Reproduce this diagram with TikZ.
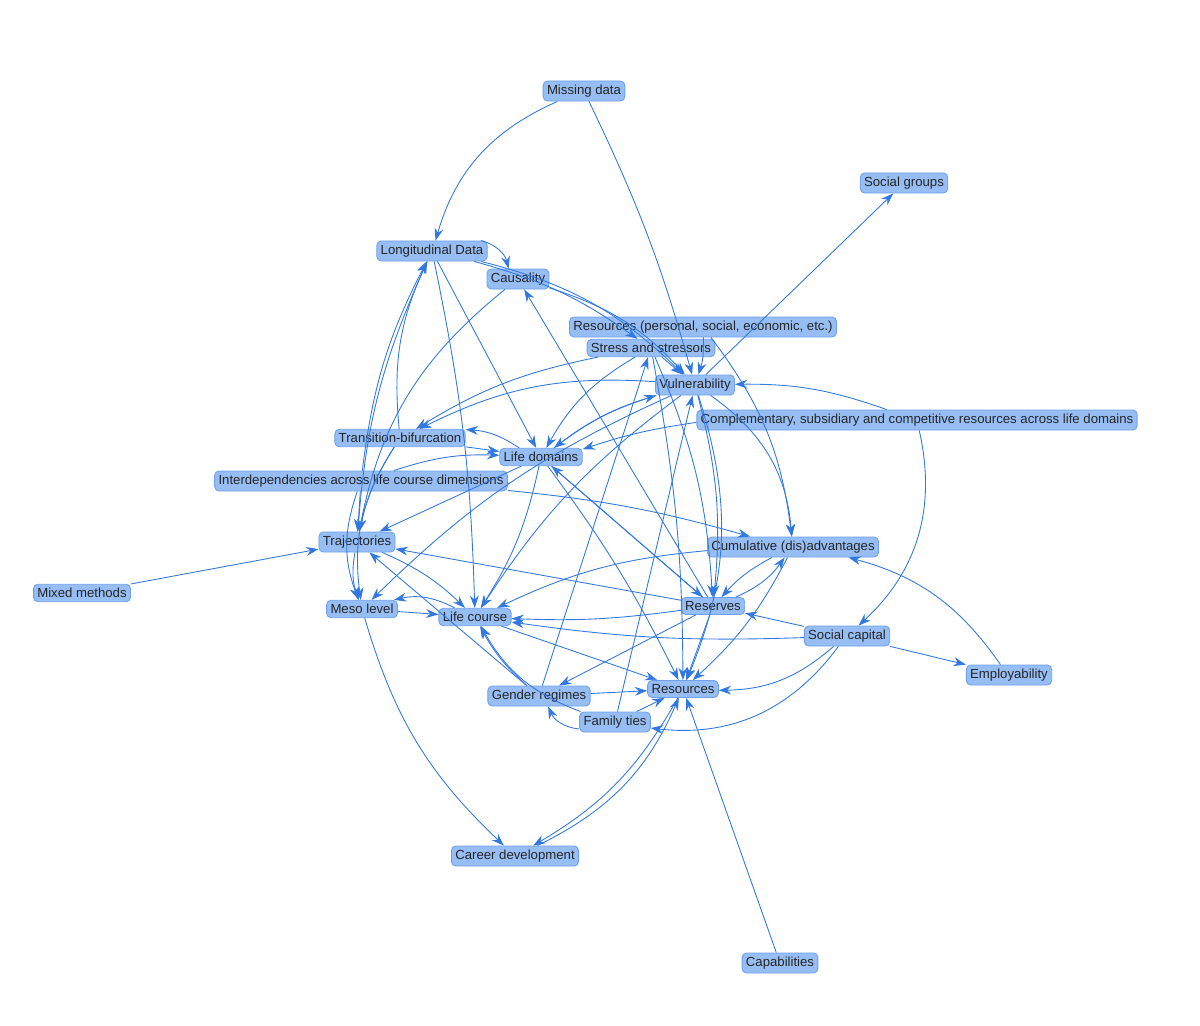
\documentclass[tikz,border=0pt]{standalone}
\usepackage{fontspec}
\setmainfont{Liberation Sans}
\usetikzlibrary{arrows.meta}
\definecolor{nfill}{RGB}{150,190,245}
\definecolor{ndraw}{RGB}{110,160,235}
\definecolor{edge}{RGB}{50,120,225}
\tikzset{
  nd/.style={fill=nfill,draw=ndraw,rounded corners=2.5pt,font=\fontsize{7.5pt}{9pt}\selectfont,text=black!85,inner sep=2.2pt,line width=0.5pt},
  ed/.style={draw=edge,line width=0.5pt,-{Stealth[length=7pt,width=5pt]}},
}
\begin{document}
\begin{tikzpicture}[x=0.02cm,y=-0.02cm]
\useasboundingbox (0,0) rectangle (1200,1025);
\node[nd] (md) at (584,91) {Missing data};
\node[nd] (sg) at (904,183) {Social groups};
\node[nd] (ld) at (432,251) {Longitudinal Data};
\node[nd] (ca) at (518,279) {Causality};
\node[nd] (rp) at (703,327) {Resources (personal, social, economic, etc.)};
\node[nd] (st) at (651,348) {Stress and stressors};
\node[nd] (vu) at (695,385) {Vulnerability};
\node[nd] (co) at (917,420) {Complementary, subsidiary and competitive resources across life domains};
\node[nd] (tb) at (400,438) {Transition-bifurcation};
\node[nd] (lf) at (541,457) {Life domains};
\node[nd] (in) at (361,481) {Interdependencies across life course dimensions};
\node[nd] (tr) at (357,542) {Trajectories};
\node[nd] (cu) at (793,547) {Cumulative (dis)advantages};
\node[nd] (mm) at (82,593) {Mixed methods};
\node[nd] (me) at (362,609) {Meso level};
\node[nd] (lc) at (475,617) {Life course};
\node[nd] (re) at (713,606) {Reserves};
\node[nd] (sc) at (847,636) {Social capital};
\node[nd] (em) at (1009,675) {Employability};
\node[nd] (rs) at (683,689) {Resources};
\node[nd] (gr) at (539,696) {Gender regimes};
\node[nd] (ft) at (615,722) {Family ties};
\node[nd] (cd) at (515,856) {Career development};
\node[nd] (cp) at (780,963) {Capabilities};

\begin{scope}[every path/.style={ed}]
\draw (md) to[bend right=25] (ld);
\draw (md) to[bend left=5] (vu);
\draw (vu) -- (sg);
\draw (ld) to[bend left=30] (ca);
\draw (ld) -- (lf);
\draw (ld) to[bend left=5] (lc);
\draw (ld) to[bend right=10] (tr);
\draw (ld) to[bend left=15] (vu);
\draw (ld) to[bend left=10] (st);
\draw (ca) to[bend left=15] (vu);
\draw (re) -- (ca);
\draw (ca) to[bend right=20] (tr);
\draw (st) to[bend right=15] (lf);
\draw (st) -- (vu);
\draw (st) to[bend right=10] (tb);
\draw (st) to[bend left=10] (re);
\draw (st) to[bend left=5] (rs);
\draw (rp) to[bend left=10] (vu);
\draw (rp) to[bend left=15] (cu);
\draw (vu) to[bend right=10] (lf);
\draw (vu) to[bend right=15] (tb);
\draw (vu) to[bend left=10] (re);
\draw (vu) to[bend left=20] (rs);
\draw (vu) to[bend left=25] (cu);
\draw (vu) to[bend right=10] (lc);
\draw (vu) to[bend right=10] (me);
\draw (co) to[bend right=5] (lf);
\draw (co) to[bend left=30] (sc);
\draw (co) to[bend right=10] (vu);
\draw (tb) to[bend right=10] (tr);
\draw (tb) -- (lf);
\draw (tb) to[bend left=15] (ld);
\draw (tb) to[bend right=20] (me);
\draw (lf) -- (tr);
\draw (lf) to[bend left=10] (vu);
\draw (lf) -- (re);
\draw (lf) to[bend left=5] (rs);
\draw (lf) to[bend left=10] (lc);
\draw (lf) to[bend right=15] (tb);
\draw (in) -- (tr);
\draw (in) to[bend left=10] (lf);
\draw (in) to[bend left=5] (cu);
\draw (in) to[bend right=20] (me);
\draw (in) to[bend left=10] (ld);
\draw (tr) to[bend right=15] (me);
\draw (tr) to[bend left=10] (lc);
\draw (mm) -- (tr);
\draw (me) -- (lc);
\draw (me) to[bend right=15] (cd);
\draw (lc) -- (rs);
\draw (lc) to[bend right=20] (me);
\draw (re) -- (tr);
\draw (re) to[bend left=5] (lc);
\draw (re) -- (rs);
\draw (re) to[bend right=15] (cu);
\draw (re) -- (lf);
\draw (re) -- (gr);
\draw (cu) to[bend right=10] (re);
\draw (cu) to[bend right=10] (lc);
\draw (cu) to[bend left=10] (rs);
\draw (sc) -- (re);
\draw (sc) -- (em);
\draw (sc) to[bend left=20] (rs);
\draw (sc) to[bend left=5] (lc);
\draw (sc) to[bend left=30] (ft);
\draw (em) to[bend right=20] (cu);
\draw (rs) to[bend left=15] (cd);
\draw (gr) -- (rs);
\draw (gr) -- (st);
\draw (gr) to[bend left=10] (lc);
\draw (gr) -- (tr);
\draw (ft) -- (rs);
\draw (ft) -- (vu);
\draw (ft) to[bend left=30] (gr);
\draw (ft) to[bend left=20] (lc);
\draw (cd) to[bend right=20] (rs);
\draw (cp) -- (rs);
\end{scope}
\end{tikzpicture}
\end{document}
